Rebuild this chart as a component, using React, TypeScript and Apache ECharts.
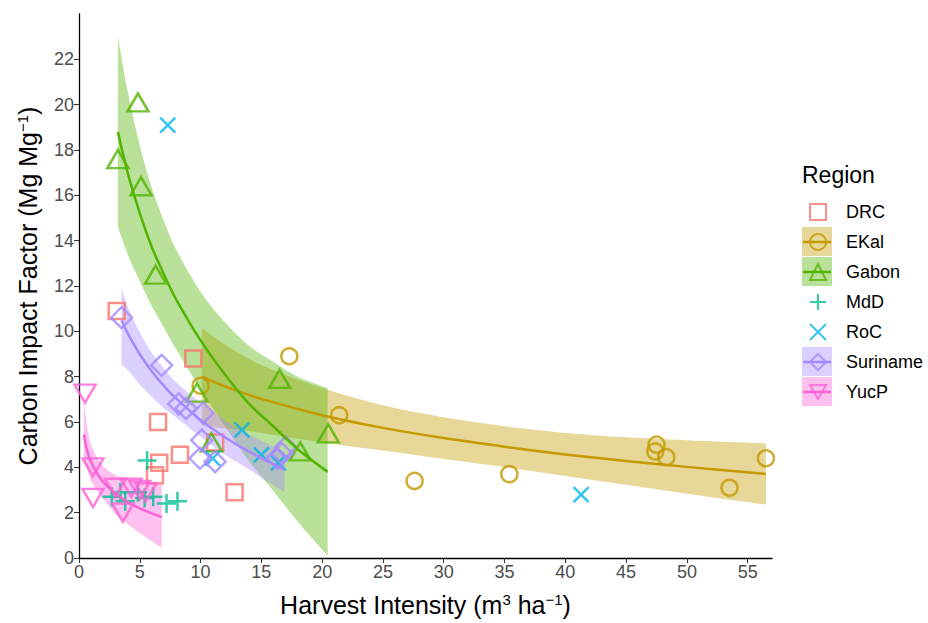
import React, { useEffect, useRef } from "react";
import * as echarts from "echarts";

// ---------- data ----------
const regions = ["DRC", "EKal", "Gabon", "MdD", "RoC", "Suriname", "YucP"];

const drcPts = [[3.1, 10.9], [9.4, 8.8], [6.5, 6.0], [6.6, 4.2], [6.25, 3.65], [8.3, 4.55], [12.8, 2.9], [11.2, 5.1]];
const ekalPts = [[17.3, 8.9], [10.0, 7.6], [21.4, 6.3], [27.6, 3.4], [35.4, 3.7], [47.5, 5.0], [47.4, 4.7], [48.3, 4.45], [53.5, 3.1], [56.5, 4.4]];
const gabonPts = [[4.85, 20.1], [3.2, 17.6], [5.1, 16.4], [6.3, 12.5], [9.7, 7.3], [16.5, 7.9], [18.2, 4.7], [20.5, 5.5], [10.9, 5.1]];
const mddPts = [[5.6, 4.3], [2.7, 2.7], [3.4, 2.9], [3.8, 2.5], [4.85, 2.9], [5.4, 2.65], [6.1, 2.7], [7.2, 2.4], [8.1, 2.5]];
const rocPts = [[7.3, 19.1], [13.4, 5.65], [15.0, 4.55], [16.4, 4.2], [11.0, 4.4], [41.3, 2.8]];
const surinamePts = [[3.5, 10.6], [6.8, 8.5], [8.2, 6.8], [8.8, 6.6], [10.2, 6.4], [10.1, 5.2], [9.95, 4.4], [11.2, 4.25], [16.3, 4.4], [16.7, 4.6], [17.0, 4.9]];
const yucpPts = [[0.5, 7.25], [1.15, 4.0], [1.15, 2.65], [3.0, 3.1], [3.6, 2.0], [4.3, 3.1], [5.0, 3.0], [5.5, 2.9]];

// fitted curves with confidence ribbons
const ekalFitX = [10.1, 12, 15, 20, 25, 30, 35, 40, 45, 50, 56.5];
const ekalFit = [8.0, 7.57, 7.02, 6.3, 5.74, 5.29, 4.91, 4.57, 4.28, 4.02, 3.71];
const ekalLow = [5.85, 5.72, 5.52, 5.1, 4.74, 4.37, 4.01, 3.62, 3.23, 2.84, 2.36];
const ekalHigh = [10.15, 9.42, 8.52, 7.5, 6.74, 6.21, 5.81, 5.52, 5.33, 5.2, 5.06];

const gabonFitX = [3.2, 4, 5, 6, 7, 8, 10, 12, 14, 16, 18, 20.45];
const gabonFit = [18.8, 17.0, 15.2, 13.7, 12.5, 11.4, 9.6, 8.1, 6.8, 5.8, 4.8, 3.8];
const gabonLow = [14.6, 13.4, 12.2, 11.1, 10.15, 9.2, 7.45, 5.8, 4.25, 2.95, 1.6, 0.1];
const gabonHigh = [23.0, 20.6, 18.2, 16.3, 14.85, 13.6, 11.75, 10.4, 9.35, 8.65, 8.0, 7.5];

const surFitX = [3.5, 4, 5, 6, 7, 8, 10, 12, 14, 16.9];
const surFit = [10.48, 9.92, 8.99, 8.23, 7.58, 7.03, 6.09, 5.33, 4.69, 3.9];
const surLow = [8.5, 8.3, 7.65, 7.1, 6.6, 6.2, 5.35, 4.55, 3.9, 2.9];
const surHigh = [11.9, 11.1, 9.95, 9.05, 8.35, 7.75, 6.85, 6.08, 5.45, 4.7];

const yucFitX = [0.4, 0.6, 0.8, 1, 1.5, 2, 3, 4, 5, 6.8];
const yucFit = [5.45, 4.9, 4.5, 4.23, 3.72, 3.35, 2.84, 2.47, 2.19, 1.8];
const yucLow = [4.4, 4.0, 3.7, 3.4, 2.95, 2.6, 1.95, 1.5, 1.1, 0.45];
const yucHigh = [7.0, 6.0, 5.4, 5.0, 4.4, 4.05, 3.65, 3.45, 3.35, 3.25];

const xTicks = [0, 5, 10, 15, 20, 25, 30, 35, 40, 45, 50, 55];
const yTicks = [0, 2, 4, 6, 8, 10, 12, 14, 16, 18, 20, 22];

// ---------- styles ----------
const FONT = "'Liberation Sans', Arial, Helvetica, sans-serif";
const COL: Record<string, string> = {
  DRC: "#F8766D",
  EKal: "#C49A00",
  Gabon: "#53B400",
  MdD: "#00C094",
  RoC: "#00B6EB",
  Suriname: "#A58AFF",
  YucP: "#FB61D7",
};
const RIBBON_ALPHA = 0.4;
const PLUS = "path://M5,0L5,10M0,5L10,5";
const CROSS = "path://M0,0L10,10M10,0L0,10";
const DOWN_TRI = "path://M0,0L10,0L5,8.66Z";

function rgba(hex: string, a: number) {
  const n = parseInt(hex.slice(1), 16);
  return `rgba(${(n >> 16) & 255},${(n >> 8) & 255},${n & 255},${a})`;
}

// Catmull-Rom spline through projected points, as cubic bezier segments
function spline(p: number[][]) {
  let s = "";
  for (let i = 0; i < p.length - 1; i++) {
    const p0 = p[i - 1] || p[i];
    const p1 = p[i];
    const p2 = p[i + 1];
    const p3 = p[i + 2] || p[i + 1];
    const c1x = p1[0] + (p2[0] - p0[0]) / 6;
    const c1y = p1[1] + (p2[1] - p0[1]) / 6;
    const c2x = p2[0] - (p3[0] - p1[0]) / 6;
    const c2y = p2[1] - (p3[1] - p1[1]) / 6;
    s += ` C${c1x},${c1y} ${c2x},${c2y} ${p2[0]},${p2[1]}`;
  }
  return s;
}

function scatter(name: string, data: number[][], symbol: string, size: any) {
  return {
    type: "scatter",
    name,
    data,
    symbol,
    symbolSize: size,
    itemStyle: { color: "rgba(255,255,255,0)", borderColor: COL[name], borderWidth: 2.5 },
    emphasis: { disabled: true },
    silent: true,
  };
}

function ribbon(name: string, xs: number[], lo: number[], hi: number[]) {
  return {
    type: "custom",
    name: name + " ribbon",
    coordinateSystem: "cartesian2d",
    silent: true,
    clip: true,
    data: [[xs[0], lo[0]]],
    renderItem: (_params: any, api: any) => {
      const up = xs.map((x, i) => api.coord([x, hi[i]]));
      const dn = xs.map((x, i) => api.coord([x, lo[i]])).reverse();
      const d =
        `M${up[0][0]},${up[0][1]}` + spline(up) + ` L${dn[0][0]},${dn[0][1]}` + spline(dn) + " Z";
      return {
        type: "path",
        shape: { pathData: d },
        style: { fill: rgba(COL[name], RIBBON_ALPHA), stroke: null },
      };
    },
  };
}

function fit(name: string, xs: number[], ys: number[]) {
  return {
    type: "line",
    name: name + " fit",
    data: xs.map((x, i) => [x, ys[i]]),
    symbol: "none",
    smooth: 0.3,
    lineStyle: { color: COL[name], width: 2.5 },
    silent: true,
  };
}

const KEY_LEFT = 802; // left edge of legend key boxes
const KEY_W = 30;
const ICON = 16;
const LEG_TOP = 203;
const ROW = 30;
const ROW_H = 18;

export default function App() {
  const ref = useRef<HTMLDivElement>(null);
  useEffect(() => {
    if (!ref.current) return;
    const chart = echarts.init(ref.current, null, { renderer: "svg" });
    const rich = {
      t: { fontSize: 25, fontFamily: FONT, color: "#000" },
      s: { fontSize: 15, fontFamily: FONT, color: "#000", verticalAlign: "top" },
    };
    const ribbonKeys = ["EKal", "Gabon", "Suriname", "YucP"];
    const graphics: any[] = [
      {
        type: "text",
        left: KEY_LEFT,
        top: 163,
        style: { text: "Region", fontSize: 23, fontFamily: FONT, fill: "#000" },
      },
    ];
    regions.forEach((r, i) => {
      const cy = LEG_TOP + ROW_H / 2 + i * ROW;
      if (ribbonKeys.includes(r)) {
        graphics.push({
          type: "rect",
          shape: { x: KEY_LEFT, y: cy - ROW / 2, width: KEY_W, height: ROW - 1 },
          style: { fill: rgba(COL[r], RIBBON_ALPHA) },
          z: 1,
          silent: true,
        });
        graphics.push({
          type: "line",
          shape: { x1: KEY_LEFT + 1, y1: cy, x2: KEY_LEFT + KEY_W - 1, y2: cy },
          style: { stroke: COL[r], lineWidth: 2.5 },
          z: 10,
          silent: true,
        });
      }
    });

    const option: any = {
      animation: false,
      backgroundColor: "#fff",
      grid: { left: 79, right: 156, top: 14, bottom: 65, containLabel: false, outerBoundsMode: "none" },
      xAxis: {
        type: "value",
        min: 0,
        max: 57,
        interval: 5,
        name: "{t|Harvest Intensity (m}{s|3}{t| ha}{s|−1}{t|)}",
        nameLocation: "middle",
        nameGap: 34,
        nameTextStyle: { rich },
        axisLine: { show: true, lineStyle: { color: "#000", width: 1.3 } },
        axisTick: { show: true, length: 5, lineStyle: { color: "#333" }, customValues: xTicks },
        axisLabel: { fontSize: 18, color: "#4D4D4D", fontFamily: FONT, margin: 5, customValues: xTicks },
        splitLine: { show: false },
      },
      yAxis: {
        type: "value",
        min: 0,
        max: 24,
        interval: 2,
        name: "{t|Carbon Impact Factor (Mg Mg}{s|−1}{t|)}",
        nameLocation: "middle",
        nameGap: 39,
        nameTextStyle: { rich },
        axisLine: { show: true, lineStyle: { color: "#000", width: 1.3 } },
        axisTick: { show: true, length: 5, lineStyle: { color: "#333" }, customValues: yTicks },
        axisLabel: { fontSize: 18, color: "#4D4D4D", fontFamily: FONT, margin: 5, customValues: yTicks },
        splitLine: { show: false },
      },
      legend: {
        orient: "vertical",
        left: KEY_LEFT + (KEY_W - ICON) / 2,
        top: LEG_TOP,
        padding: 0,
        itemWidth: ICON,
        itemHeight: ICON,
        itemGap: ROW - ROW_H,
        data: regions,
        selectedMode: false,
        textStyle: { fontSize: 18, fontFamily: FONT, color: "#000", padding: [0, 0, 0, 15] },
      },
      graphic: graphics,
      series: [
        scatter("DRC", drcPts, "rect", 16),
        scatter("EKal", ekalPts, "circle", 16),
        scatter("Gabon", gabonPts, "triangle", [21, 18]),
        scatter("MdD", mddPts, PLUS, 19),
        scatter("RoC", rocPts, CROSS, 15),
        scatter("Suriname", surinamePts, "diamond", 21),
        scatter("YucP", yucpPts, DOWN_TRI, [21, 18]),
        ribbon("EKal", ekalFitX, ekalLow, ekalHigh),
        fit("EKal", ekalFitX, ekalFit),
        ribbon("Gabon", gabonFitX, gabonLow, gabonHigh),
        fit("Gabon", gabonFitX, gabonFit),
        ribbon("Suriname", surFitX, surLow, surHigh),
        fit("Suriname", surFitX, surFit),
        ribbon("YucP", yucFitX, yucLow, yucHigh),
        fit("YucP", yucFitX, yucFit),
      ],
    };
    chart.setOption(option);
    return () => chart.dispose();
  }, []);
  return (
    <div
      ref={ref}
      style={{ position: "absolute", left: 0, top: 0, width: 928, height: 623 }}
    />
  );
}
